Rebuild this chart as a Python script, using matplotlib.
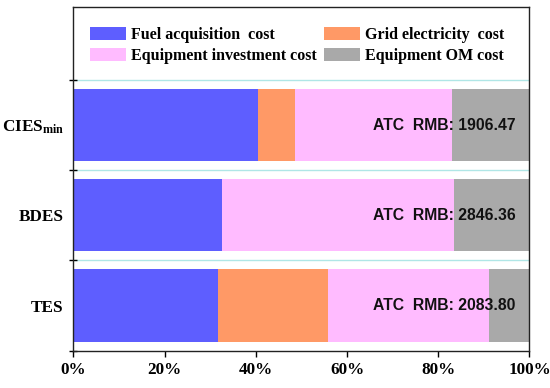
import matplotlib
matplotlib.use("Agg")
import matplotlib.pyplot as plt
import numpy as np

plt.rcParams['mathtext.fontset'] = 'custom'
plt.rcParams['mathtext.rm'] = 'Liberation Serif:bold'
plt.rcParams['mathtext.bf'] = 'Liberation Serif:bold'
plt.rcParams['mathtext.it'] = 'Liberation Serif:bold'

categories = ['TES', 'BDES', r'$\mathbf{CIES}_{\mathbf{min}}$']
series_names = ['Fuel acquisition  cost', 'Grid electricity  cost',
                'Equipment investment cost', 'Equipment OM cost']
fuel = [31.7, 32.6, 40.5]
grid = [24.1, 0.0, 8.1]
equip = [35.4, 50.9, 34.5]
om = [8.8, 16.5, 16.9]
atc_labels = ['ATC  RMB: 2083.80', 'ATC  RMB: 2846.36', 'ATC  RMB: 1906.47']
xtick_vals = [0, 20, 40, 60, 80, 100]
xtick_labels = ['0%', '20%', '40%', '60%', '80%', '100%']

colors = ['#5E5EFF', '#FF9966', '#FFBBFF', '#A9A9A9']

fig = plt.figure(figsize=(5.5, 3.88), dpi=100)
ax = fig.add_axes([0.1336, 0.0966, 0.9627 - 0.1336, 0.9807 - 0.0966])

y = np.arange(len(categories))
left = np.zeros(len(categories))
handles = []
for vals, c, name in zip([fuel, grid, equip, om], colors, series_names):
    h = ax.barh(y, vals, left=left, height=0.8, color=c, label=name, zorder=2)
    handles.append(h)
    left += np.array(vals)

for yi in [0.5, 1.5, 2.5]:
    ax.axhline(yi, color='#B0E6E6', lw=1.0, zorder=1)

for yi, t in zip(y, atc_labels):
    ax.text(97.0, yi, t, ha='right', va='center', fontsize=11.3,
            fontweight='bold', family='Liberation Sans', color='#111111', zorder=3)

ax.set_xlim(0, 100)
ax.set_ylim(-0.5, 3.31)
ax.set_xticks(xtick_vals)
ax.set_xticklabels(xtick_labels, family='Liberation Serif', fontweight='bold', fontsize=12.3)
ax.set_yticks([-0.5, 0.5, 1.5, 2.5])
ax.set_yticklabels([])
ax.set_yticks(y, minor=True)
ax.set_yticklabels(categories, minor=True, family='Liberation Serif', fontweight='bold', fontsize=12.3)
ax.tick_params(axis='y', which='minor', length=0, pad=7)
ax.tick_params(axis='y', which='major', direction='inout', length=6, width=1)
ax.tick_params(axis='x', which='major', direction='out', length=4, width=1, pad=4)
for s in ax.spines.values():
    s.set_linewidth(1.0)
    s.set_color('#222222')

order = [0, 2, 1, 3]
leg = ax.legend([handles[i] for i in order], [series_names[i] for i in order],
                ncol=2, loc='upper left', bbox_to_anchor=(0.036, 0.944),
                frameon=False, borderpad=0, borderaxespad=0,
                handlelength=2.25, handleheight=0.9, handletextpad=0.3,
                labelspacing=0.33, columnspacing=0.5,
                prop={'family': 'Liberation Serif', 'weight': 'bold', 'size': 11.5})

fig.savefig('out.png', dpi=100)
